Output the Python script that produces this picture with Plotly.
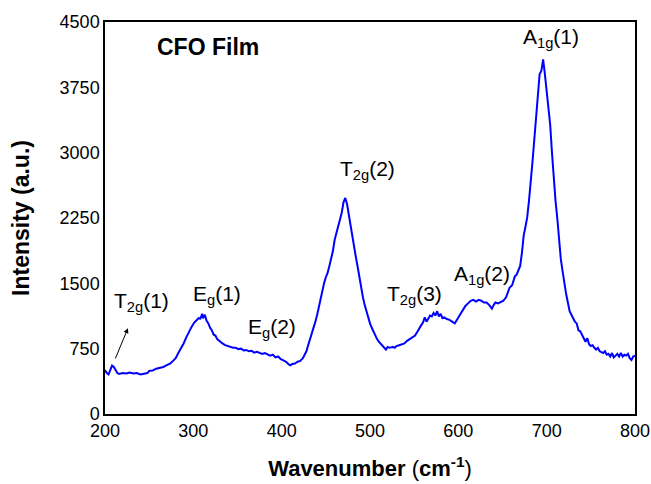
import plotly.graph_objects as go

wavenumber = [200, 202, 204, 206, 208, 210, 212, 214, 216, 220, 224, 228, 232, 236, 240, 244, 248, 250, 254, 258,
              262, 266, 270, 274, 277, 280, 283, 286, 289, 292, 295, 298, 301, 304, 306, 308, 310, 311, 313, 315,
              317, 319, 321, 323, 325, 327, 329, 331, 333, 336, 339, 342, 345, 348, 351, 354, 357, 360, 363, 366,
              369, 372, 375, 378, 381, 384, 387, 390, 393, 396, 399, 402, 405, 408, 410, 412, 415, 418, 421, 424,
              426, 428, 430, 432, 434, 436, 438, 440, 442, 444, 446, 448, 450, 452, 454, 456, 458, 460, 462, 464,
              466, 468, 470, 472, 474, 476, 478, 480, 482, 484, 486, 488, 490, 492, 494, 496, 498, 500, 502, 504,
              506, 508, 510, 512, 514, 516, 518, 520, 522, 524, 526, 528, 530, 533, 536, 539, 542, 545, 548, 551,
              554, 556, 558, 560, 562, 564, 566, 568, 570, 572, 574, 576, 578, 580, 582, 584, 587, 590, 593, 596,
              599, 602, 605, 608, 611, 614, 617, 620, 623, 626, 629, 632, 635, 638, 640, 642, 645, 648, 651, 654,
              656, 658, 661, 664, 666, 668, 670, 672, 674, 676, 678, 680, 682, 684, 686, 688, 690, 692, 694, 696,
              698, 700, 702, 704, 706, 708, 710, 712, 714, 716, 718, 720, 722, 724, 726, 728, 730, 732, 734, 736,
              738, 740, 742, 744, 746, 748, 750, 752, 754, 756, 758, 760, 762, 764, 766, 768, 770, 772, 774, 776,
              778, 780, 782, 784, 786, 788, 790, 792, 794, 796, 798, 800]

intensity = [505, 470, 455, 500, 555, 540, 500, 470, 460, 470, 465, 475, 465, 470, 455, 460, 470, 495, 500, 520,
             530, 540, 560, 580, 610, 640, 700, 750, 810, 880, 950, 1000, 1050, 1080, 1100, 1095, 1150, 1100, 1140, 1070,
             1040, 990, 960, 910, 900, 860, 840, 820, 810, 790, 780, 770, 760, 760, 745, 750, 730, 735, 720, 725,
             705, 715, 700, 690, 700, 680, 670, 680, 650, 660, 630, 615, 600, 570, 560, 575, 580, 600, 610, 640,
             680, 720, 790, 850, 920, 990, 1055, 1130, 1230, 1330, 1400, 1500, 1570, 1620, 1700, 1770, 1870, 2000, 2080, 2150,
             2220, 2310, 2430, 2480, 2410, 2280, 2160, 2040, 1920, 1800, 1690, 1560, 1450, 1340, 1250, 1170, 1090, 1040, 990, 940,
             900, 860, 830, 810, 790, 760, 740, 770, 760, 765, 770, 760, 780, 790, 800, 810, 840, 860, 880, 900,
             950, 990, 1020, 1050, 1110, 1060, 1090, 1130, 1120, 1160, 1130, 1180, 1120, 1150, 1100, 1110, 1090, 1080, 1060, 1040,
             1090, 1140, 1190, 1240, 1270, 1300, 1310, 1290, 1310, 1300, 1280, 1280, 1250, 1210, 1250, 1280, 1270, 1290, 1300, 1340,
             1400, 1450, 1480, 1580, 1600, 1660, 1700, 1850, 2050, 2150, 2260, 2450, 2650, 2900, 3150, 3400, 3650, 3900, 3940, 4070,
             3900, 3700, 3500, 3320, 3000, 2700, 2450, 2250, 1980, 1780, 1640, 1480, 1380, 1280, 1180, 1140, 1100, 1060, 1040, 960,
             950, 910, 880, 830, 870, 800, 780, 790, 760, 740, 760, 720, 710, 700, 720, 680, 690, 660, 700, 650,
             670, 690, 660, 700, 660, 680, 670, 690, 640, 620, 660, 670]

y_ticks = [0, 750, 1500, 2250, 3000, 3750, 4500]
x_ticks = [200, 300, 400, 500, 600, 700, 800]

peak_labels = ["T<sub>2g</sub>(1)", "E<sub>g</sub>(1)", "E<sub>g</sub>(2)", "T<sub>2g</sub>(2)",
               "T<sub>2g</sub>(3)", "A<sub>1g</sub>(2)", "A<sub>1g</sub>(1)"]
label_x = [241, 327, 389, 497, 550, 627, 705]
label_y = [1290, 1370, 990, 2800, 1370, 1600, 4320]

FONT = "Liberation Sans, Arial, sans-serif"

fig = go.Figure()
fig.add_trace(go.Scatter(x=wavenumber, y=intensity, mode="lines",
                         line=dict(color="#0000FF", width=2), showlegend=False))

for t, lx, ly in zip(peak_labels, label_x, label_y):
    fig.add_annotation(x=lx, y=ly, text=t, showarrow=False,
                       font=dict(family=FONT, size=21, color="black"))

# arrow pointing to T2g(1) label
fig.add_annotation(x=226, y=985, ax=211, ay=620, xref="x", yref="y", axref="x", ayref="y",
                   text="", showarrow=True, arrowhead=2, arrowsize=1, arrowwidth=1, arrowcolor="black")

fig.add_annotation(x=317, y=4210, xref="x", yref="y", text="<b>CFO Film</b>", showarrow=False,
                   font=dict(family=FONT, size=23, color="black"))

fig.update_layout(
    width=651, height=484,
    margin=dict(l=105, r=16, t=22, b=70),
    paper_bgcolor="white", plot_bgcolor="white",
    font=dict(family=FONT, color="black"),
    xaxis=dict(range=[200, 800], tickvals=x_ticks, ticks="", showgrid=False, zeroline=False,
               showline=True, linecolor="black", linewidth=1.5, mirror=True, automargin=False,
               tickfont=dict(size=18, color="black"),
               title=dict(text="<b>Wavenumber</b> (<b>cm</b><sup><b>-1</b></sup>)",
                          font=dict(size=22, color="black"), standoff=20)),
    yaxis=dict(range=[0, 4500], tickvals=y_ticks, ticks="", showgrid=False, zeroline=False,
               showline=True, linecolor="black", linewidth=1.5, mirror=True, automargin=False,
               tickfont=dict(size=18, color="black"),
               title=dict(text="<b>Intensity (a.u.)</b>", font=dict(size=23, color="black"), standoff=24)),
)

fig.write_html("out.html")
